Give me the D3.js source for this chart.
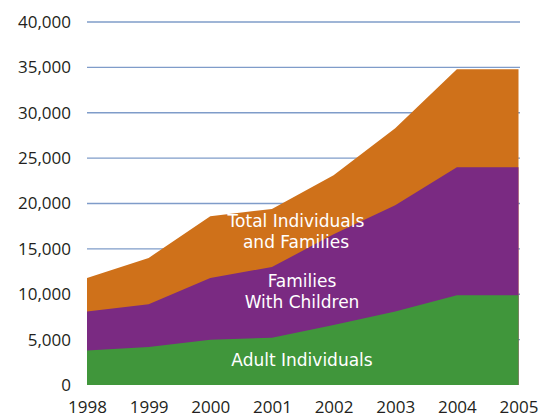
<!DOCTYPE html>
<html>
<head>
<meta charset="utf-8">
<script src="https://cdn.jsdelivr.net/npm/d3@7"></script>
<style>
  html, body { margin: 0; padding: 0; background: #fff; }
  svg { display: block; font-family: "Open Sans", sans-serif; }
</style>
</head>
<body>
<svg id="chart" width="552" height="417"></svg>
<script>
const years = ['1998', '1999', '2000', '2001', '2002', '2003', '2004', '2005'];
const total = [11800, 14000, 18600, 19400, 23100, 28300, 34800, 34800];
const families = [8100, 8900, 11800, 13000, 16600, 19800, 24000, 24000];
const adults = [3800, 4200, 5000, 5200, 6600, 8100, 9900, 9900];
const yTicks = [0, 5000, 10000, 15000, 20000, 25000, 30000, 35000, 40000];

const series = [
  { name: ['Total Individuals', 'and Families'], values: total, color: '#cf711a', lx: 296, ly: 227 },
  { name: ['Families', 'With Children'], values: families, color: '#7a2a82', lx: 302, ly: 287 },
  { name: ['Adult Individuals'], values: adults, color: '#40963b', lx: 302, ly: 366 }
];

const svg = d3.select('#chart');

const x = d3.scalePoint().domain(years).range([87, 518.5]);
const y = d3.scaleLinear().domain([0, 40000]).range([385, 22]);

// gridlines behind the areas
svg.append('g')
  .selectAll('line')
  .data(yTicks.filter((d) => d > 0))
  .join('line')
  .attr('x1', 87)
  .attr('x2', 520)
  .attr('y1', (d) => y(d))
  .attr('y2', (d) => y(d))
  .attr('stroke', '#7f9cc9')
  .attr('stroke-width', 1.3);

const area = d3.area()
  .x((d, i) => x(years[i]))
  .y0(y(0))
  .y1((d) => y(d));

svg.append('g')
  .selectAll('path')
  .data(series)
  .join('path')
  .attr('d', (s) => area(s.values))
  .attr('fill', (s) => s.color);

// area labels, one text per line
const labels = svg.append('g')
  .attr('fill', '#fff')
  .attr('font-family', '"DejaVu Sans", sans-serif')
  .attr('font-size', 17)
  .attr('text-anchor', 'middle');

series.forEach((s) => {
  s.name.forEach((line, i) => {
    labels.append('text')
      .attr('x', s.lx)
      .attr('y', s.ly + i * 20.5)
      .text(line);
  });
});

// y axis
const yAxis = svg.append('g')
  .attr('transform', 'translate(71, 0)')
  .call(d3.axisLeft(y).tickValues(yTicks).tickSize(0).tickPadding(0).tickFormat(d3.format(',')));
yAxis.select('.domain').remove();
yAxis.selectAll('text')
  .attr('fill', '#231f20')
  .attr('font-size', 17)
  .attr('font-family', '"Open Sans", sans-serif');

// x axis
const xAxis = svg.append('g')
  .attr('transform', 'translate(0, 385)')
  .call(d3.axisBottom(x).tickSize(0).tickPadding(0));
xAxis.select('.domain').remove();
xAxis.selectAll('text')
  .attr('fill', '#231f20')
  .attr('font-size', 17)
  .attr('font-family', '"Open Sans", sans-serif')
  .attr('dy', null)
  .attr('y', 28);
</script>
</body>
</html>
